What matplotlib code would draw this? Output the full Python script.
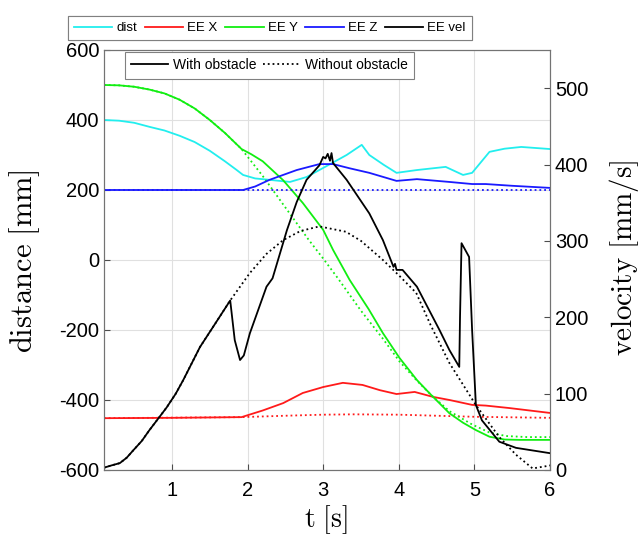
import numpy as np
import matplotlib
matplotlib.use('Agg')
import matplotlib.pyplot as plt
from matplotlib.lines import Line2D

plt.rcParams['font.family'] = ['Liberation Sans', 'DejaVu Sans']
plt.rcParams['mathtext.fontset'] = 'cm'
plt.rcParams['axes.unicode_minus'] = False

# distance (left axis, mm)
t_dist = [0.1, 0.3, 0.5, 0.71, 0.9, 1.1, 1.3, 1.5, 1.7, 1.85, 1.94, 2.1, 2.29, 2.56, 2.78, 3.0, 3.31, 3.51, 3.61,
          3.8, 3.97, 4.24, 4.62, 4.85, 4.97, 5.2, 5.4, 5.62, 6.0]
dist = [400, 398, 392, 380, 370, 355, 337, 312, 282, 258, 243, 233, 229, 223, 237, 263, 300, 329, 300,
        272, 249, 257, 266, 243, 249, 309, 318, 323, 317]

t_x = [0.1, 1.0, 1.92, 2.2, 2.47, 2.73, 3.0, 3.26, 3.52, 3.75, 3.97, 4.21, 4.45, 4.67, 4.97, 5.15, 5.46, 6.0]
ee_x = [-452, -451, -449, -430, -409, -380, -363, -351, -357, -372, -383, -377, -391, -400, -414, -416, -423, -437]
t_x0 = [0.1, 1.92, 2.5, 3.0, 3.4, 4.0, 4.5, 5.0, 6.0]
ee_x0 = [-452, -449, -445, -442, -441, -442, -445, -448, -451]

t_y = [0.1, 0.3, 0.5, 0.7, 0.9, 1.1, 1.3, 1.5, 1.7, 1.92, 2.05, 2.2, 2.47, 2.73, 3.0, 3.13, 3.35, 3.6, 3.79,
       4.01, 4.24, 4.43, 4.67, 4.85, 5.02, 5.2, 5.4, 5.6, 6.0]
ee_y = [500, 499, 495, 487, 476, 458, 433, 400, 363, 317, 302, 282, 228, 163, 86, 29, -57, -140, -209,
        -280, -343, -386, -438, -465, -486, -505, -513, -514, -514]
t_y0 = [0.1, 0.3, 0.5, 0.7, 0.9, 1.1, 1.3, 1.5, 1.7, 1.92, 2.2, 2.5, 2.8, 3.0, 3.19, 3.5, 3.79, 4.01, 4.24,
        4.43, 4.67, 4.97, 5.2, 5.42, 5.7, 6.0]
ee_y0 = [500, 499, 495, 487, 476, 458, 433, 400, 363, 317, 240, 150, 60, 4, -51, -145, -225, -290, -345,
         -386, -432, -470, -493, -503, -506, -506]

t_z = [0.1, 1.94, 2.1, 2.29, 2.47, 2.65, 2.95, 3.13, 3.35, 3.61, 3.97, 4.24, 4.67, 4.97, 5.15, 5.5, 6.0]
ee_z = [200, 200, 210, 229, 243, 257, 274, 274, 262, 249, 226, 231, 223, 217, 217, 212, 206]
t_z0 = [0.1, 6.0]
ee_z0 = [199, 199]

# end-effector velocity (right axis, mm/s)
t_v = [0.1, 0.2, 0.31, 0.4, 0.49, 0.6, 0.7, 0.8, 0.93, 1.05, 1.15, 1.37, 1.6, 1.77, 1.83, 1.9, 1.95, 2.03,
       2.25, 2.33, 2.52, 2.65, 2.78, 2.95, 3.0, 3.03, 3.06, 3.09, 3.11, 3.13, 3.31, 3.61, 3.79, 3.93, 3.95,
       3.97, 4.05, 4.24, 4.54, 4.67, 4.80, 4.81, 4.83, 4.93, 4.97, 5.02, 5.1, 5.33, 5.55, 6.0]
vel = [3, 6, 9, 16, 26, 38, 52, 65, 82, 100, 118, 161, 196, 222, 170, 144, 150, 179,
       240, 251, 314, 351, 380, 399, 410, 408, 414, 405, 415, 402, 380, 336, 301, 266, 270,
       262, 262, 240, 183, 157, 135, 200, 297, 279, 183, 85, 65, 37, 29, 22]
t_v0 = [0.1, 0.2, 0.31, 0.4, 0.49, 0.6, 0.7, 0.8, 0.93, 1.05, 1.15, 1.37, 1.6, 1.77, 2.03, 2.25, 2.47, 2.7,
        2.95, 3.3, 3.5, 3.79, 4.0, 4.23, 4.42, 4.67, 5.02, 5.33, 5.55, 5.77, 5.95, 6.0]
vel0 = [3, 6, 9, 16, 26, 38, 52, 65, 82, 100, 118, 161, 196, 222, 258, 283, 301, 313,
        319, 312, 300, 275, 255, 232, 190, 140, 85, 43, 20, 2, 5, 6]

c_dist = '#22eeee'
c_x = '#ff1a1a'
c_y = '#11ee11'
c_z = '#1a1aff'
c_v = 'black'
lw = 1.3

fig = plt.figure(figsize=(6.41, 5.37), dpi=100)
ax1 = fig.add_axes([0.1622, 0.1248, 0.6958, 0.7821])
ax2 = ax1.twinx()

ax1.plot(t_dist, dist, color=c_dist, lw=lw)
ax1.plot(t_x0, ee_x0, color=c_x, lw=lw, ls=':')
ax1.plot(t_x, ee_x, color=c_x, lw=lw)
ax1.plot(t_y0, ee_y0, color=c_y, lw=lw, ls=':')
ax1.plot(t_y, ee_y, color=c_y, lw=lw)
ax1.plot(t_z0, ee_z0, color=c_z, lw=lw, ls=':')
ax1.plot(t_z, ee_z, color=c_z, lw=lw)

ax2.plot(t_v0, vel0, color=c_v, lw=lw, ls=':')
ax2.plot(t_v, vel, color=c_v, lw=lw)

ax1.set_xlim(0.1, 6)
ax1.set_ylim(-600, 600)
ax2.set_ylim(0, 550)
ax1.set_xticks([1, 2, 3, 4, 5, 6])
ax1.set_yticks([-600, -400, -200, 0, 200, 400, 600])
ax2.set_yticks([0, 100, 200, 300, 400, 500])

ax1.grid(True, color='0.88', lw=0.8)
ax1.set_axisbelow(True)
for ax in (ax1, ax2):
    ax.tick_params(direction='in', labelsize=14.5, length=4, color='0.3', labelcolor='black')
    for s in ax.spines.values():
        s.set_color('0.45')
ax1.tick_params(axis='x', pad=8)

ax1.set_xlabel(r'$\mathrm{t\ [s]}$', fontsize=20)
ax1.set_ylabel(r'$\mathrm{distance\ [mm]}$', fontsize=22)
ax2.set_ylabel(r'$\mathrm{velocity\ [mm/s]}$', fontsize=21)
ax1.xaxis.set_label_coords(0.498, -0.08)
ax1.yaxis.set_label_coords(-0.139, 0.498)
ax2.yaxis.set_label_coords(1.128, 0.506)

h1 = [Line2D([], [], color=c, lw=lw) for c in (c_dist, c_x, c_y, c_z, c_v)]
leg1 = ax1.legend(h1, ['dist', 'EE X', 'EE Y', 'EE Z', 'EE vel'], loc='upper center',
                  bbox_to_anchor=(0.372, 1.081), ncol=5, fontsize=9.5, fancybox=False,
                  edgecolor='0.5', framealpha=1, handlelength=2.9, columnspacing=0.6,
                  handletextpad=0.3, borderpad=0.45, borderaxespad=0)
leg1.get_frame().set_linewidth(0.8)
ax1.add_artist(leg1)

h2 = [Line2D([], [], color='black', lw=lw), Line2D([], [], color='black', lw=lw, ls=':')]
leg2 = ax2.legend(h2, ['With obstacle', 'Without obstacle'], loc='upper center',
                  bbox_to_anchor=(0.371, 0.995), ncol=2, fontsize=10, fancybox=False,
                  edgecolor='0.5', framealpha=1, handlelength=2.65, columnspacing=0.5,
                  handletextpad=0.35, borderpad=0.45, borderaxespad=0)
leg2.get_frame().set_linewidth(0.8)

fig.savefig('out.png', dpi=100)
